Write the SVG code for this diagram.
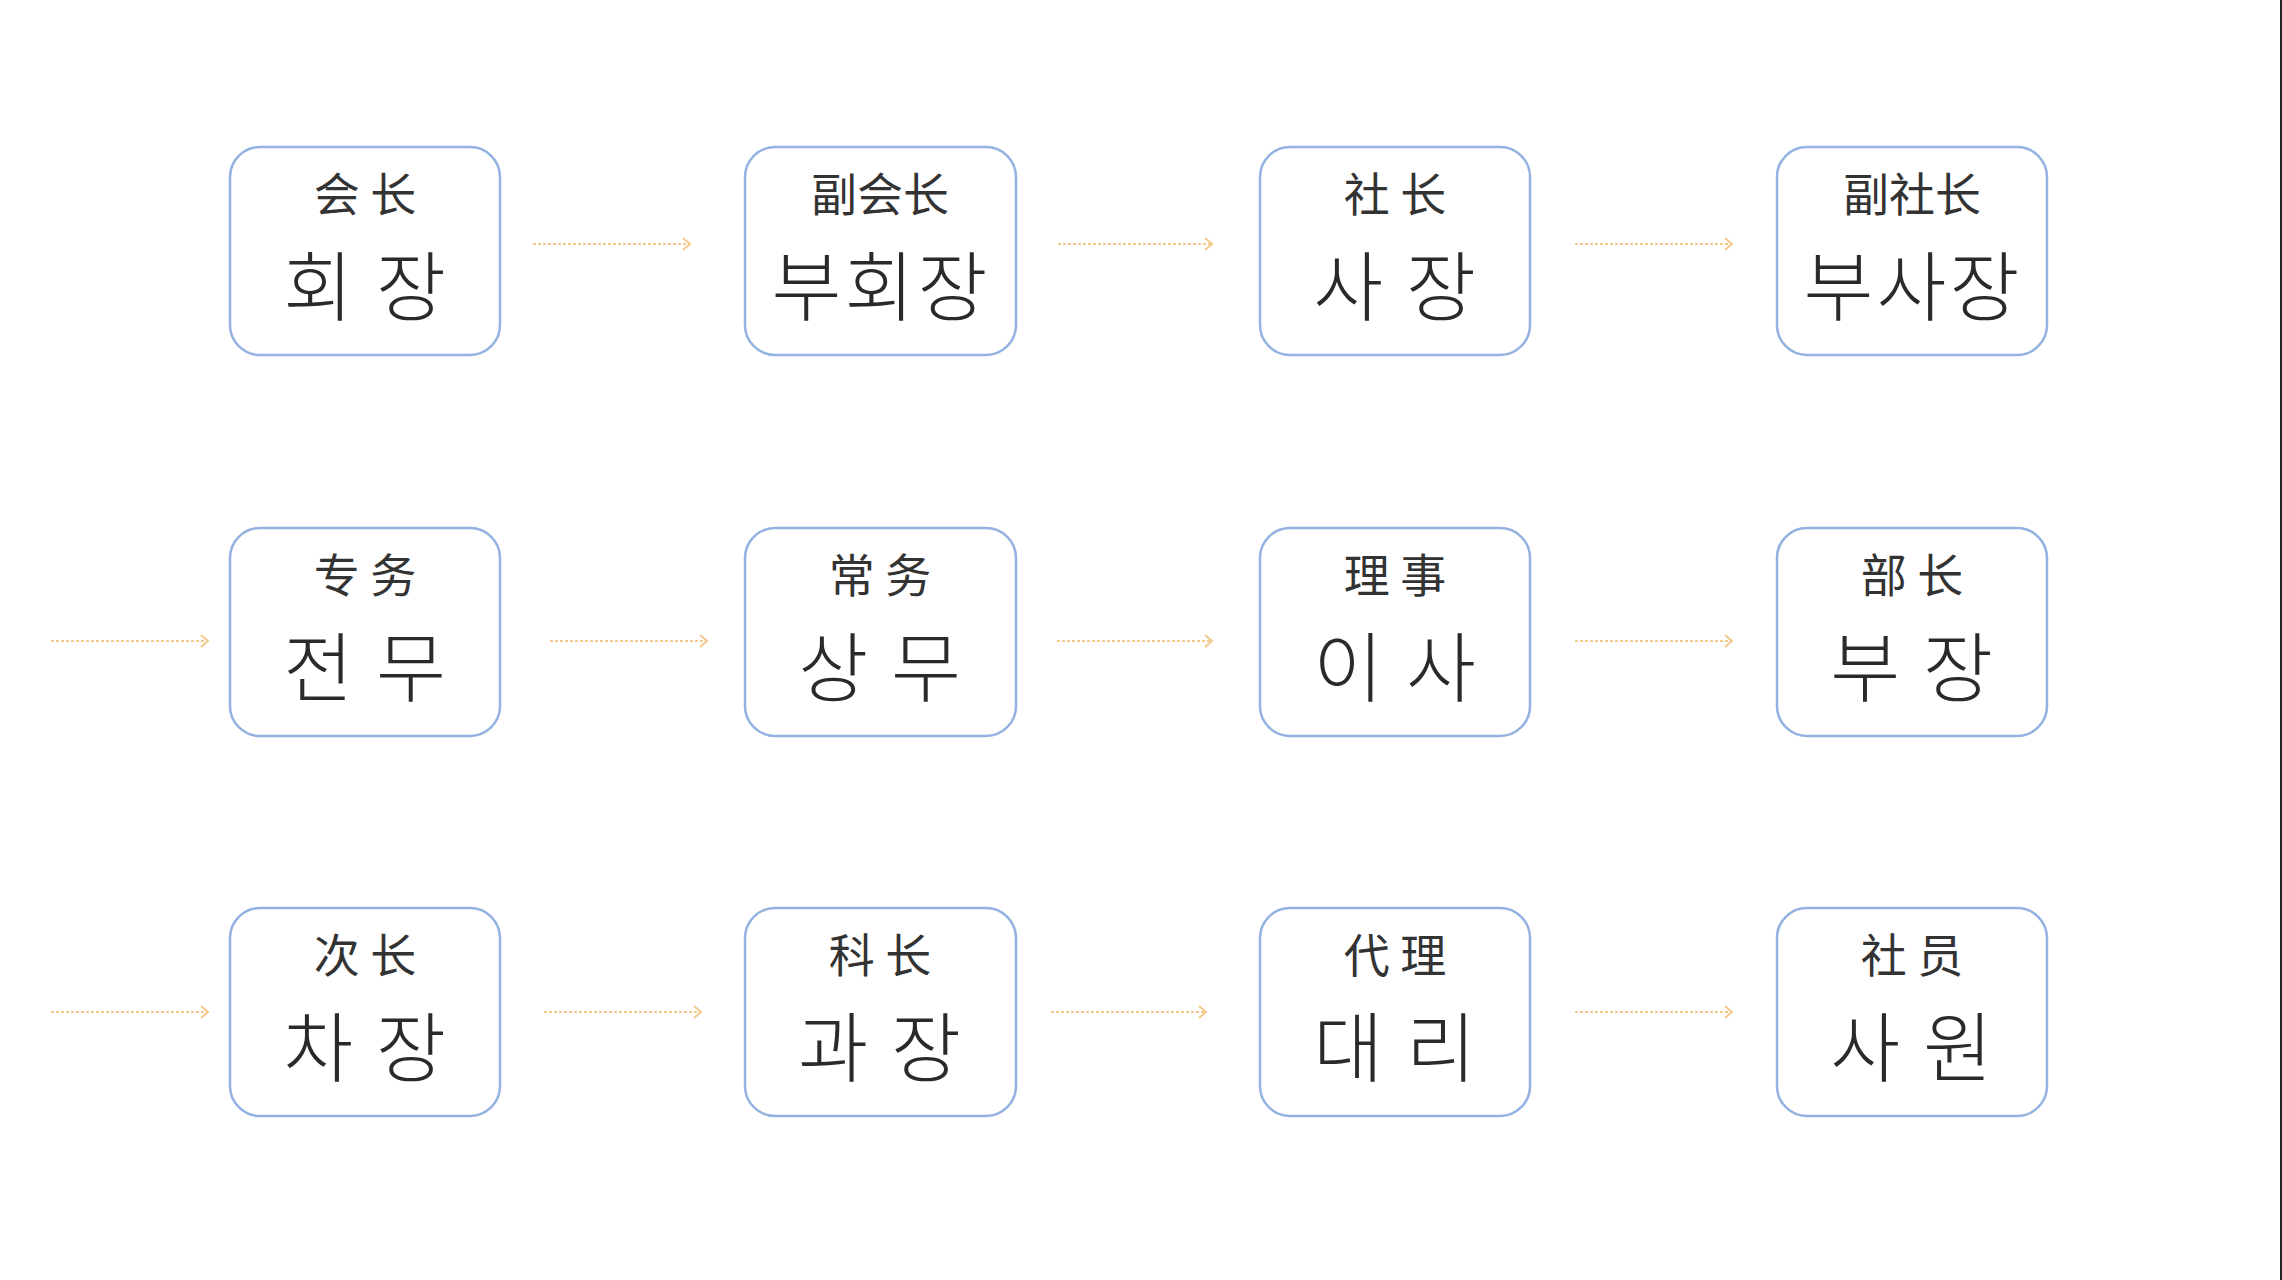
<svg xmlns="http://www.w3.org/2000/svg" width="2282" height="1280" viewBox="0 0 2282 1280">
<style>
.box{fill:#fff;stroke:#93b2e2;stroke-width:2.5}
.zh{font-family:"Noto Sans CJK SC","Noto Sans CJK KR",sans-serif;font-size:46px;fill:#333;text-anchor:middle;font-weight:400}
.ko{font-family:"Noto Sans CJK KR",sans-serif;font-size:76px;fill:#2a2a2a;text-anchor:middle;font-weight:300;letter-spacing:3px}
.arr{stroke:#f4c98c;stroke-width:2;stroke-dasharray:3 2;fill:none;marker-end:url(#ah)}
</style>
<defs>
<marker id="ah" markerWidth="14" markerHeight="14" refX="11" refY="7" orient="auto" markerUnits="userSpaceOnUse">
<path d="M4,1 L11,7 L4,13" fill="none" stroke="#f4c98c" stroke-width="2"/>
</marker>
</defs>
<rect width="2282" height="1280" fill="#fff"/>
<rect x="2280" y="0" width="2" height="1280" fill="#222"/>
<g id="connectors">
<line class="arr" x1="533" y1="244" x2="690" y2="244"/>
<line class="arr" x1="1058" y1="244" x2="1212" y2="244"/>
<line class="arr" x1="1575" y1="244" x2="1732" y2="244"/>
<line class="arr" x1="51" y1="641" x2="208" y2="641"/>
<line class="arr" x1="550" y1="641" x2="707" y2="641"/>
<line class="arr" x1="1057" y1="641" x2="1212" y2="641"/>
<line class="arr" x1="1575" y1="641" x2="1732" y2="641"/>
<line class="arr" x1="51" y1="1012" x2="208" y2="1012"/>
<line class="arr" x1="544" y1="1012" x2="701" y2="1012"/>
<line class="arr" x1="1051" y1="1012" x2="1206" y2="1012"/>
<line class="arr" x1="1575" y1="1012" x2="1732" y2="1012"/>
</g>
<g id="n1"><rect class="box" x="230" y="147" width="270" height="208" rx="30"/><text class="zh" x="365" y="211">会 长</text><text class="ko" x="366" y="315">회 장</text></g>
<g id="n2"><rect class="box" x="745" y="147" width="271" height="208" rx="30"/><text class="zh" x="880" y="211">副会长</text><text class="ko" x="881" y="315">부회장</text></g>
<g id="n3"><rect class="box" x="1260" y="147" width="270" height="208" rx="30"/><text class="zh" x="1395" y="211">社 长</text><text class="ko" x="1396" y="315">사 장</text></g>
<g id="n4"><rect class="box" x="1777" y="147" width="270" height="208" rx="30"/><text class="zh" x="1912" y="211">副社长</text><text class="ko" x="1913" y="315">부사장</text></g>
<g id="n5"><rect class="box" x="230" y="528" width="270" height="208" rx="30"/><text class="zh" x="365" y="592">专 务</text><text class="ko" x="366" y="696">전 무</text></g>
<g id="n6"><rect class="box" x="745" y="528" width="271" height="208" rx="30"/><text class="zh" x="880" y="592">常 务</text><text class="ko" x="881" y="696">상 무</text></g>
<g id="n7"><rect class="box" x="1260" y="528" width="270" height="208" rx="30"/><text class="zh" x="1395" y="592">理 事</text><text class="ko" x="1396" y="696">이 사</text></g>
<g id="n8"><rect class="box" x="1777" y="528" width="270" height="208" rx="30"/><text class="zh" x="1912" y="592">部 长</text><text class="ko" x="1913" y="696">부 장</text></g>
<g id="n9"><rect class="box" x="230" y="908" width="270" height="208" rx="30"/><text class="zh" x="365" y="972">次 长</text><text class="ko" x="366" y="1076">차 장</text></g>
<g id="n10"><rect class="box" x="745" y="908" width="271" height="208" rx="30"/><text class="zh" x="880" y="972">科 长</text><text class="ko" x="881" y="1076">과 장</text></g>
<g id="n11"><rect class="box" x="1260" y="908" width="270" height="208" rx="30"/><text class="zh" x="1395" y="972">代 理</text><text class="ko" x="1396" y="1076">대 리</text></g>
<g id="n12"><rect class="box" x="1777" y="908" width="270" height="208" rx="30"/><text class="zh" x="1912" y="972">社 员</text><text class="ko" x="1913" y="1076">사 원</text></g>
</svg>
